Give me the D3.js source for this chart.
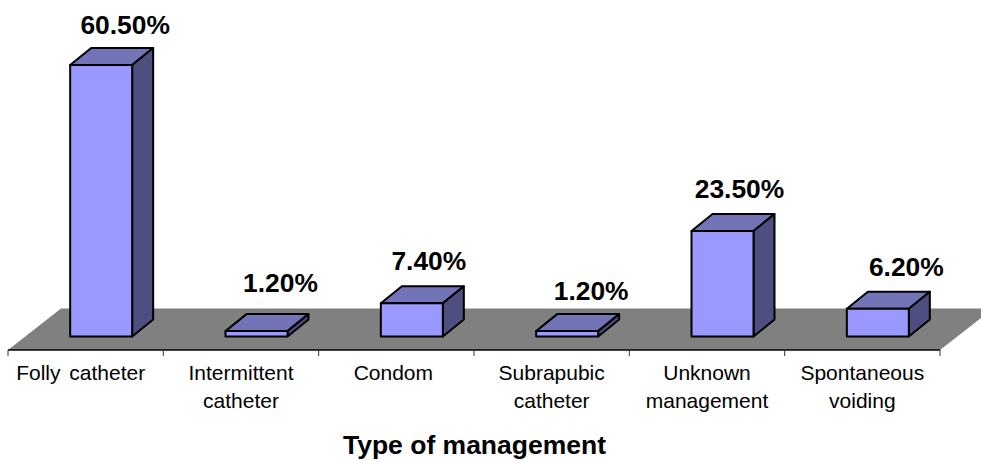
<!DOCTYPE html>
<html><head><meta charset="utf-8">
<script src="https://cdn.jsdelivr.net/npm/d3@7/dist/d3.min.js"></script>
<style>html,body{margin:0;background:#fff}svg{display:block}text{font-family:"Liberation Sans",Arial,sans-serif;fill:#000}</style>
</head><body><script>
const categories=[["Folly catheter"],["Intermittent","catheter"],["Condom"],["Subrapubic","catheter"],["Unknown","management"],["Spontaneous","voiding"]];
const values=[60.5,1.2,7.4,1.2,23.5,6.2];
const valueLabels=["60.50%","1.20%","7.40%","1.20%","23.50%","6.20%"];
const axisTitle="Type of management";

const W=981,H=461,baseFront=350,baseBack=308.5,barBase=336.5,dx=21,dy=17,barW=62;
const labelNudgeY=[-31,-39,-33,-31,-33,-33];
const labelNudgeX=[24,24,17,24,17,28.5];
const catNudgeX=[-5,0,-3,0,0,0];
const svg=d3.select("body").append("svg").attr("width",W).attr("height",H);
const x=d3.scaleBand().domain(d3.range(categories.length)).range([8,940]);
const y=d3.scaleLinear().domain([0,60.5]).range([barBase,65]);
const line=d3.line();
svg.append("path").attr("d",line([[8,baseFront],[61,baseBack],[993,baseBack],[940,baseFront]])+"Z").attr("fill","#808080");
svg.append("path").attr("d",line([[8,baseFront],[940,baseFront]])).attr("stroke","#000").attr("stroke-width",1.5);
const tickXs=x.domain().map(d=>x(d)).concat(940);
svg.selectAll(".tick").data(tickXs).join("line").attr("x1",d=>d).attr("x2",d=>d).attr("y1",baseFront).attr("y2",356).attr("stroke","#333").attr("stroke-width",1);
const g=svg.selectAll(".bar").data(values).join("g");
const off=15.5;
g.each(function(v,i){
  const s=d3.select(this),l=x(i)+x.bandwidth()/2+off-barW/2,r=l+barW,t=y(v),b=y(0);
  const st=p=>p.attr("stroke","#000").attr("stroke-width",2).attr("stroke-linejoin","round");
  st(s.append("path").attr("d",line([[l,t],[l+dx,t-dy],[r+dx,t-dy],[r,t]])+"Z").attr("fill","#7373b8"));
  st(s.append("path").attr("d",line([[r,t],[r+dx,t-dy],[r+dx,b-dy],[r,b]])+"Z").attr("fill","#4e4e80"));
  st(s.append("path").attr("d",line([[l,t],[r,t],[r,b],[l,b]])+"Z").attr("fill","#9999ff"));
  s.append("text").attr("x",l+barW/2+labelNudgeX[i]).attr("y",t+labelNudgeY[i]).attr("text-anchor","middle").attr("font-size",26.4).attr("font-weight","bold").text(valueLabels[i]);
});
const labels=svg.selectAll(".cat").data(categories).join("text").attr("text-anchor","middle").attr("font-size",21).attr("word-spacing",3);
labels.each(function(c,i){
  d3.select(this).selectAll("tspan").data(c).join("tspan").attr("x",x(i)+x.bandwidth()/2+catNudgeX[i]).attr("y",(d,j)=>380+j*27.5).text(d=>d);
});
svg.append("text").attr("x",474.5).attr("y",454).attr("text-anchor","middle").attr("font-size",26.5).attr("font-weight","bold").text(axisTitle);
</script></body></html>
